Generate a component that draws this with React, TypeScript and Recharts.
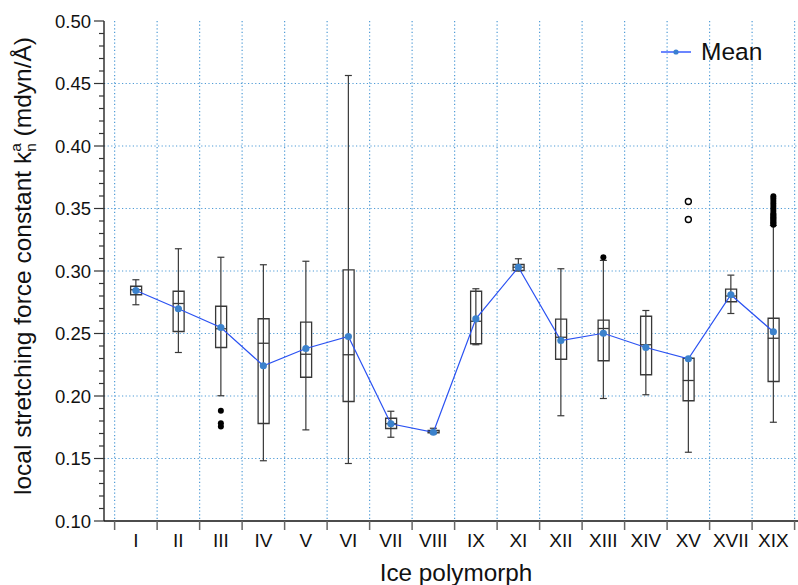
import {
  ComposedChart,
  Bar,
  Line,
  Scatter,
  ErrorBar,
  XAxis,
  YAxis,
  CartesianGrid,
  Legend,
} from "recharts";

const polymorphs = ["I", "II", "III", "IV", "V", "VI", "VII", "VIII", "IX", "XI", "XII", "XIII", "XIV", "XV", "XVII", "XIX"];

// box plot statistics
const whiskerLow = [0.273, 0.2348, 0.2002, 0.1482, 0.1729, 0.146, 0.167, 0.1698, 0.241, 0.3, 0.1842, 0.198, 0.201, 0.155, 0.266, 0.179];
const q1 = [0.281, 0.2516, 0.2388, 0.178, 0.215, 0.1956, 0.174, 0.1705, 0.2418, 0.3004, 0.2294, 0.2282, 0.217, 0.1962, 0.2754, 0.2116];
const median = [0.285, 0.274, 0.2538, 0.2422, 0.2334, 0.233, 0.1778, 0.171, 0.2598, 0.303, 0.247, 0.254, 0.241, 0.2124, 0.28, 0.2462];
const q3 = [0.2878, 0.2838, 0.2718, 0.2618, 0.2591, 0.3009, 0.1822, 0.1725, 0.2838, 0.3052, 0.2615, 0.2607, 0.2638, 0.2302, 0.2855, 0.2622];
const whiskerHigh = [0.293, 0.3178, 0.311, 0.305, 0.3078, 0.4564, 0.1878, 0.1742, 0.2858, 0.3098, 0.3018, 0.3085, 0.2684, 0.2305, 0.2967, 0.3364];
const means = [0.2844, 0.2698, 0.2548, 0.2242, 0.238, 0.2476, 0.1778, 0.171, 0.2617, 0.303, 0.2444, 0.2502, 0.2388, 0.2298, 0.281, 0.2514];

const filledOutliers = [
  { polymorph: "III", values: [0.1882, 0.1783, 0.1756] },
  { polymorph: "XIII", values: [0.311] },
  {
    polymorph: "XIX",
    values: [0.337, 0.338, 0.339, 0.34, 0.341, 0.342, 0.343, 0.344, 0.345, 0.346, 0.348, 0.35, 0.352, 0.354, 0.356, 0.358, 0.3598],
  },
];
const openOutliers = [{ polymorph: "XV", values: [0.3556, 0.3412] }];

const gridValues = [0.15, 0.2, 0.25, 0.3, 0.35, 0.4, 0.45];
const yTicks = Array.from({ length: 41 }, (_, i) => Math.round((0.1 + i * 0.01) * 100) / 100);
const boundaries = polymorphs.map((_, i) => i).concat(polymorphs.length);
const centers = polymorphs.map((_, i) => i + 0.5);
const xTicks = [...boundaries, ...centers].sort((a, b) => a - b);

const rows = polymorphs.map((name, i) => ({
  name,
  x: i + 0.5,
  med: median[i],
  mean: means[i],
  box: [q1[i], q3[i]],
  err: [median[i] - whiskerLow[i], whiskerHigh[i] - median[i]],
}));

const toPoints = (groups: { polymorph: string; values: number[] }[]) =>
  groups.flatMap((g) => g.values.map((v) => ({ x: polymorphs.indexOf(g.polymorph) + 0.5, v })));

const filledPoints = toPoints(filledOutliers);
const openPoints = toPoints(openOutliers);

const FONT = "'Liberation Sans', Arial, sans-serif";
const GRID = "#4f9bd6";

function YTick({ x, y, payload }: any) {
  const v = payload.value as number;
  const major = Math.round(v * 100) % 5 === 0;
  return (
    <g>
      <line x1={x - (major ? 10 : 5)} x2={x} y1={y} y2={y} stroke="#333" strokeWidth={1.2} />
      {major && (
        <text x={x - 13} y={y} dy={6.5} textAnchor="end" fontSize={18.5} fill="#111">
          {v.toFixed(2)}
        </text>
      )}
    </g>
  );
}

function XTick({ x, y, payload }: any) {
  const v = payload.value as number;
  if (Number.isInteger(v)) {
    return <line x1={x} x2={x} y1={y} y2={y + 9} stroke="#666" strokeWidth={1.5} />;
  }
  return (
    <text x={x} y={y + 26} textAnchor="middle" fontSize={19} fill="#111">
      {polymorphs[Math.floor(v)]}
    </text>
  );
}

function YTitle() {
  return (
    <text transform="translate(31, 266) rotate(-90)" textAnchor="middle" fontSize={24.5} fill="#111">
      local stretching force constant k
      <tspan dy={5} fontSize={15.5}>n</tspan>
      <tspan dx={-8.6} dy={-15.5} fontSize={15.5}>a</tspan>
      <tspan dy={10.5}> (mdyn/Å)</tspan>
    </text>
  );
}

function XTitle() {
  return (
    <text x={456} y={581} textAnchor="middle" fontSize={24.3} fill="#111">
      Ice polymorph
    </text>
  );
}

function LegendContent() {
  return (
    <div style={{ display: "flex", alignItems: "center", fontFamily: FONT }}>
      <svg width={36} height={14}>
        <line x1={0} x2={30} y1={7} y2={7} stroke="#6b86ff" strokeWidth={2} />
        <circle cx={15} cy={7} r={2.6} fill="#3b7fd0" />
      </svg>
      <span style={{ fontSize: 24.5, marginLeft: 4, color: "#111" }}>Mean</span>
    </div>
  );
}

const boxStroke = "#383838";

export default function App() {
  return (
    <div style={{ position: "absolute", left: 0, top: 0, fontFamily: FONT }}>
      <ComposedChart width={798} height={585} data={rows} margin={{ top: 21, right: 0, bottom: 0, left: 0 }}>
        <CartesianGrid
          stroke={GRID}
          strokeWidth={1.2}
          strokeDasharray="1.2 2.4"
          verticalValues={boundaries}
          horizontalValues={gridValues}
        />
        <XAxis
          dataKey="x"
          type="number"
          domain={[-0.25, 16.08]}
          allowDataOverflow
          ticks={xTicks}
          interval={0}
          tickSize={0}
          tickMargin={0}
          tick={<XTick />}
          axisLine={{ stroke: "#111", strokeWidth: 1.3 }}
          height={64}
          label={<XTitle />}
        />
        <XAxis
          xAxisId="top"
          orientation="top"
          type="number"
          domain={[-0.25, 16.08]}
          allowDataOverflow
          tick={false}
          tickLine={false}
          height={0}
          axisLine={{ stroke: "#111", strokeWidth: 1.3 }}
        />
        <YAxis
          type="number"
          domain={[0.1, 0.5]}
          allowDataOverflow
          ticks={yTicks}
          interval={0}
          tickSize={0}
          tickMargin={0}
          tick={<YTick />}
          width={104}
          axisLine={{ stroke: "#111", strokeWidth: 1.3 }}
          label={<YTitle />}
        />
        <Scatter data={rows} dataKey="med" shape={() => <g />} isAnimationActive={false} legendType="none">
          <ErrorBar dataKey="err" direction="y" width={3.5} stroke={boxStroke} strokeWidth={1.2} isAnimationActive={false} />
        </Scatter>
        <Bar dataKey="box" barSize={11} fill="#fff" stroke={boxStroke} strokeWidth={1.3} isAnimationActive={false} legendType="none" />
        <Scatter
          data={rows}
          dataKey="med"
          isAnimationActive={false}
          legendType="none"
          shape={(p: any) => (
            <line x1={p.cx - 5.5} x2={p.cx + 5.5} y1={p.cy} y2={p.cy} stroke={boxStroke} strokeWidth={1.3} />
          )}
        />
        <Line
          dataKey="mean"
          name="Mean"
          stroke="#2b52f2"
          strokeWidth={1.2}
          dot={{ r: 3.6, fill: "#3b82cc", stroke: "none" }}
          isAnimationActive={false}
        />
        <Scatter
          data={filledPoints}
          dataKey="v"
          isAnimationActive={false}
          legendType="none"
          shape={(p: any) => <circle cx={p.cx} cy={p.cy} r={3} fill="#000" />}
        />
        <Scatter
          data={openPoints}
          dataKey="v"
          isAnimationActive={false}
          legendType="none"
          shape={(p: any) => <circle cx={p.cx} cy={p.cy} r={3} fill="#fff" stroke="#000" strokeWidth={1.4} />}
        />
        <Legend
          layout="vertical"
          align="center"
          verticalAlign="middle"
          content={<LegendContent />}
          wrapperStyle={{ position: "absolute", left: 661, top: 38, width: 130 }}
        />
      </ComposedChart>
    </div>
  );
}
